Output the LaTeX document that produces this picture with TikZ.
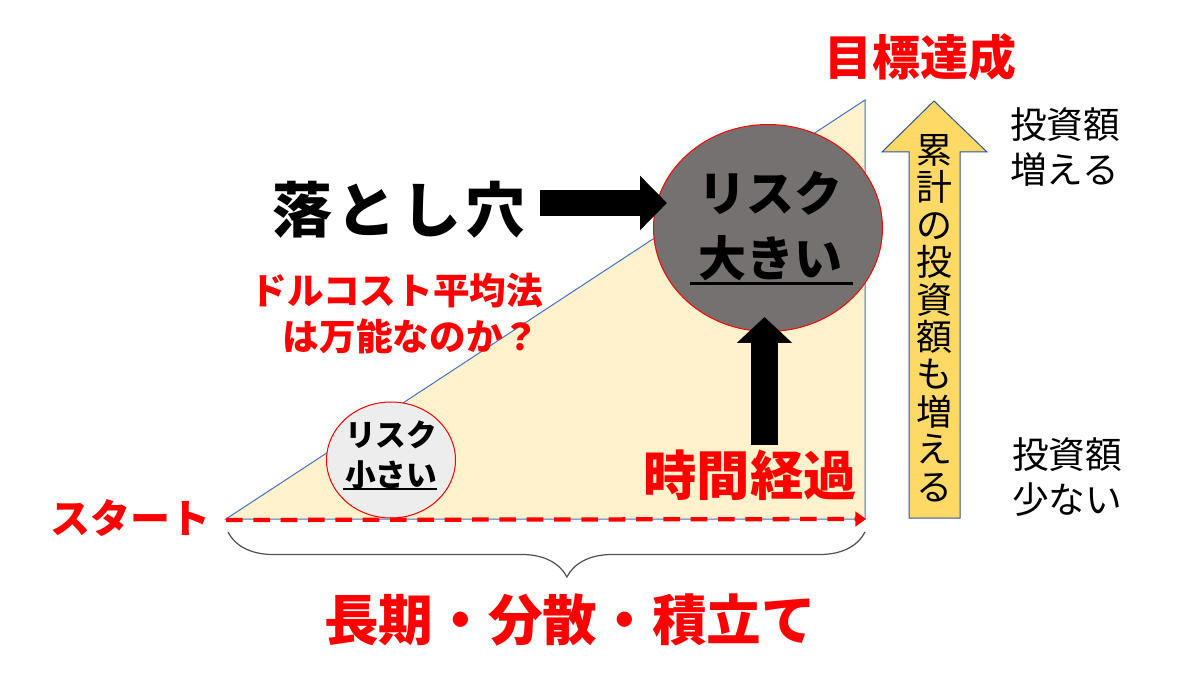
\documentclass[tikz,border=0pt]{standalone}
\usepackage{fontspec}
\setmainfont{Noto Sans CJK JP}
\usetikzlibrary{arrows.meta,decorations.pathreplacing,shapes.geometric}
\definecolor{trifill}{HTML}{FFF2CC}
\definecolor{triblue}{HTML}{4472C4}
\definecolor{bigfill}{HTML}{767171}
\definecolor{smallfill}{HTML}{EDEDED}
\definecolor{yarrow}{HTML}{FFD966}
\definecolor{yborder}{HTML}{2F5597}
\definecolor{bracecol}{HTML}{505050}
\tikzset{
  redbold/.style={text=red, font=\bfseries\fontsize{#1}{#1}\selectfont, inner sep=0pt},
  blackbold/.style={text=black, font=\bfseries\fontsize{#1}{#1}\selectfont, inner sep=0pt},
  blockarrow/.style={line width=#1, draw=black},
  riskcircle/.style={ellipse, draw=red, line width=0.75pt, inner sep=0pt},
  sidenote/.style={text=black, font=\fontsize{27.5}{34}\selectfont, align=left, inner sep=0pt, anchor=west},
}
\begin{document}
\begin{tikzpicture}[x=0.75pt,y=-0.75pt]
\useasboundingbox (0,0) rectangle (1180,680);
\fill[white] (0,0) rectangle (1180,680);
% triangle
\draw[fill=trifill, draw=triblue, line width=0.75pt] (226,519) -- (865,100) -- (865,519) -- cycle;
% circles
\node[riskcircle, fill=bigfill, minimum width=171.75pt, minimum height=155.25pt] (big) at (768,228) {};
\node[riskcircle, fill=smallfill, minimum width=96.75pt, minimum height=87pt] (small) at (391,460) {};
\node[blackbold=36, align=center, font=\bfseries\fontsize{36}{49}\selectfont] (bigtext) at (770,226) {リスク\\大きい};
\draw[line width=2.25pt] (690,284) -- (853,284);
\node[blackbold=23, align=center, font=\bfseries\fontsize{23}{30}\selectfont] (smalltext) at (391,455) {リスク\\小さい};
\draw[line width=1.5pt] (343,489) -- (437,489);
% texts
\node[redbold=36] (goal) at (920,57) {目標達成};
\node[blackbold=45] (pit) at (399,210) {落\hspace{3.5pt}と\hspace{3.5pt}し\hspace{3.5pt}穴};
\node[redbold=27.5] (dca1) at (397,291) {ドルコスト平均法};
\node[redbold=27.5] (dca2) at (411,336) {は万能なのか？};
\node[redbold=30] (start) at (130,518) {スタート};
\node[redbold=40] (time) at (750,475) {時間経過};
\node[redbold=41] (long) at (570,620) {長期・分散・積立て};
\node[sidenote] (inc) at (1010,147) {投資額\\増える};
\node[sidenote] (few) at (1012,477) {投資額\\少ない};
% yellow arrow
\draw[fill=yarrow, draw=yborder, line width=0.75pt] (909,518) -- (909,152) -- (882,152) -- (934,101) -- (987,152) -- (960,152) -- (960,518) -- cycle;
\node[text=black, font=\fontsize{27}{28.1}\selectfont, align=center, inner sep=0pt] (cum) at (934.5,318) {累\\計\\の\\投\\資\\額\\も\\増\\え\\る};
% black block arrows
\coordinate (p0) at (540,203);
\coordinate (p1) at (667,203);
\draw[blockarrow=19.5pt, -{Triangle[length=20.25pt,width=39.75pt]}] (p0) -- (p1);
\coordinate (t0) at (764.5,445);
\coordinate (t1) at (764.5,317);
\draw[blockarrow=20.25pt, -{Triangle[length=19.5pt,width=40.5pt]}] (t0) -- (t1);
% red dashed time line
\coordinate (s0) at (226,520);
\coordinate (s1) at (866,519);
\draw[red, line width=3.2pt, dash pattern=on 12.5pt off 8pt, -{Triangle[length=8pt,width=11pt]}] (s0) -- (s1);
% brace
\coordinate (b0) at (228,532);
\coordinate (b1) at (865,532);
\draw[bracecol, line width=0.9pt, decorate, decoration={brace, mirror, amplitude=33.75pt, aspect=0.532}] (b0) -- (b1);
\end{tikzpicture}
\end{document}
